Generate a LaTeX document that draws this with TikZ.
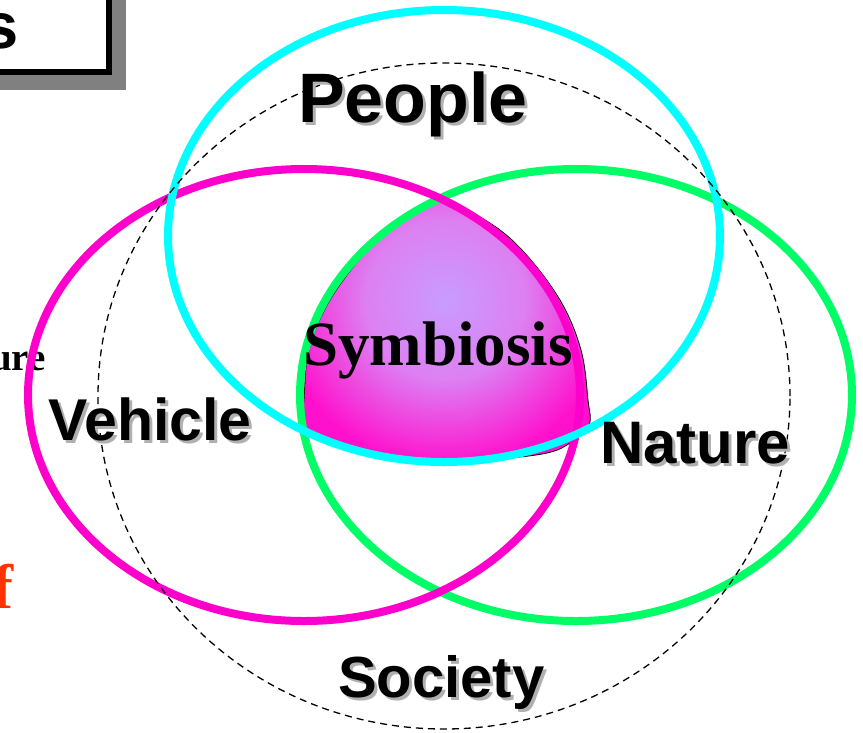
\documentclass[tikz,border=0pt]{standalone}
\usepackage{fontspec}
\setmainfont{Liberation Serif}
\newfontfamily\labelfont{Liberation Sans}
\usetikzlibrary{positioning}
\definecolor{ccyan}{HTML}{00FFFF}
\definecolor{cmag}{HTML}{FF00CC}
\definecolor{cgreen}{HTML}{00FF66}
\definecolor{cshade}{HTML}{B0B0B0}
\definecolor{cboxsh}{HTML}{808080}
\definecolor{corange}{HTML}{FF3300}
\definecolor{csymin}{HTML}{C89CFF}
\definecolor{csymmid}{HTML}{DD80F2}
\definecolor{csymout}{HTML}{FF10CC}
\pgfdeclareradialshading{symbshade}{\pgfpoint{0bp}{0bp}}{color(0bp)=(csymin); color(9bp)=(csymmid); color(19bp)=(csymout); color(50bp)=(csymout)}
\tikzset{
  ring/.style={line width=8pt},
  dashring/.style={line width=1.3pt, dash pattern=on 7pt off 5pt},
  lbl/.style={inner sep=0pt, anchor=base west, font=\labelfont\bfseries},
  lblsh/.style={lbl, text=cshade},
  serifl/.style={inner sep=0pt, anchor=base west, font=\bfseries},
  symb/.style={draw=black, line width=0.8pt},
  titlebox/.style={draw=black, line width=6pt, fill=white, inner sep=0pt},
}
\begin{document}
\begin{tikzpicture}[x=1pt,y=-1pt]
\useasboundingbox (0,0) rectangle (863,732);
% title box, cut by the left edge
\fill[cboxsh] (-10,-10) rectangle (126,90);
\node[titlebox, minimum width=160pt, minimum height=110pt, anchor=south east] (title) at (111.5,74.5) {};
\node[inner sep=0pt, anchor=base east, font=\labelfont\bfseries\fontsize{65}{65}\selectfont] (titletxt) at (19,48) {s};
% texts cut by the left edge
\node[serifl, font=\bfseries\fontsize{39}{39}\selectfont] (ure) at (-10,370) {ure};
\node[serifl, text=corange, font=\bfseries\fontsize{63}{63}\selectfont] (eff) at (-8,608) {f};
% common part
\def\symbpath{plot[smooth cycle, tension=0.6] coordinates {(440,201) (485,220) (522,250) (560,300) (581,350) (588,400) (589,425) (570,443) (547,453) (500,459) (443,463) (380,456) (330,443) (303,428) (304,400) (309,350) (330,300) (368,250) (405,220)}}
\begin{scope}
  \clip \symbpath;
  \shade[shading=symbshade] (445,300) circle [radius=220pt];
\end{scope}
\draw[symb] \symbpath;
% the three rings and the dashed one
\draw[ring, draw=cgreen] (576,395) ellipse [x radius=276pt, y radius=226pt];
\draw[ring, draw=cmag] (304,395) ellipse [x radius=276pt, y radius=226pt];
\draw[ring, draw=ccyan] (444,236) ellipse [x radius=276pt, y radius=226pt];
\draw[dashring] (444,396) ellipse [x radius=346pt, y radius=333pt];
% labels
\foreach \nm/\px/\py/\fs/\txt in {people/298/122/70/People, vehicle/48/440/59/Vehicle, nature/600/463/60/Nature, society/338/697/58/Society} {
  \node[lblsh, font=\labelfont\bfseries\fontsize{\fs}{\fs}\selectfont] (\nm-sh) at (\px+3,\py+3) {\txt};
  \node[lbl, font=\labelfont\bfseries\fontsize{\fs}{\fs}\selectfont] (\nm) at (\px,\py) {\txt};
}
\node[serifl, font=\bfseries\fontsize{63}{63}\selectfont] (symbiosis) at (303,365) {Symbiosis};
\end{tikzpicture}
\end{document}
